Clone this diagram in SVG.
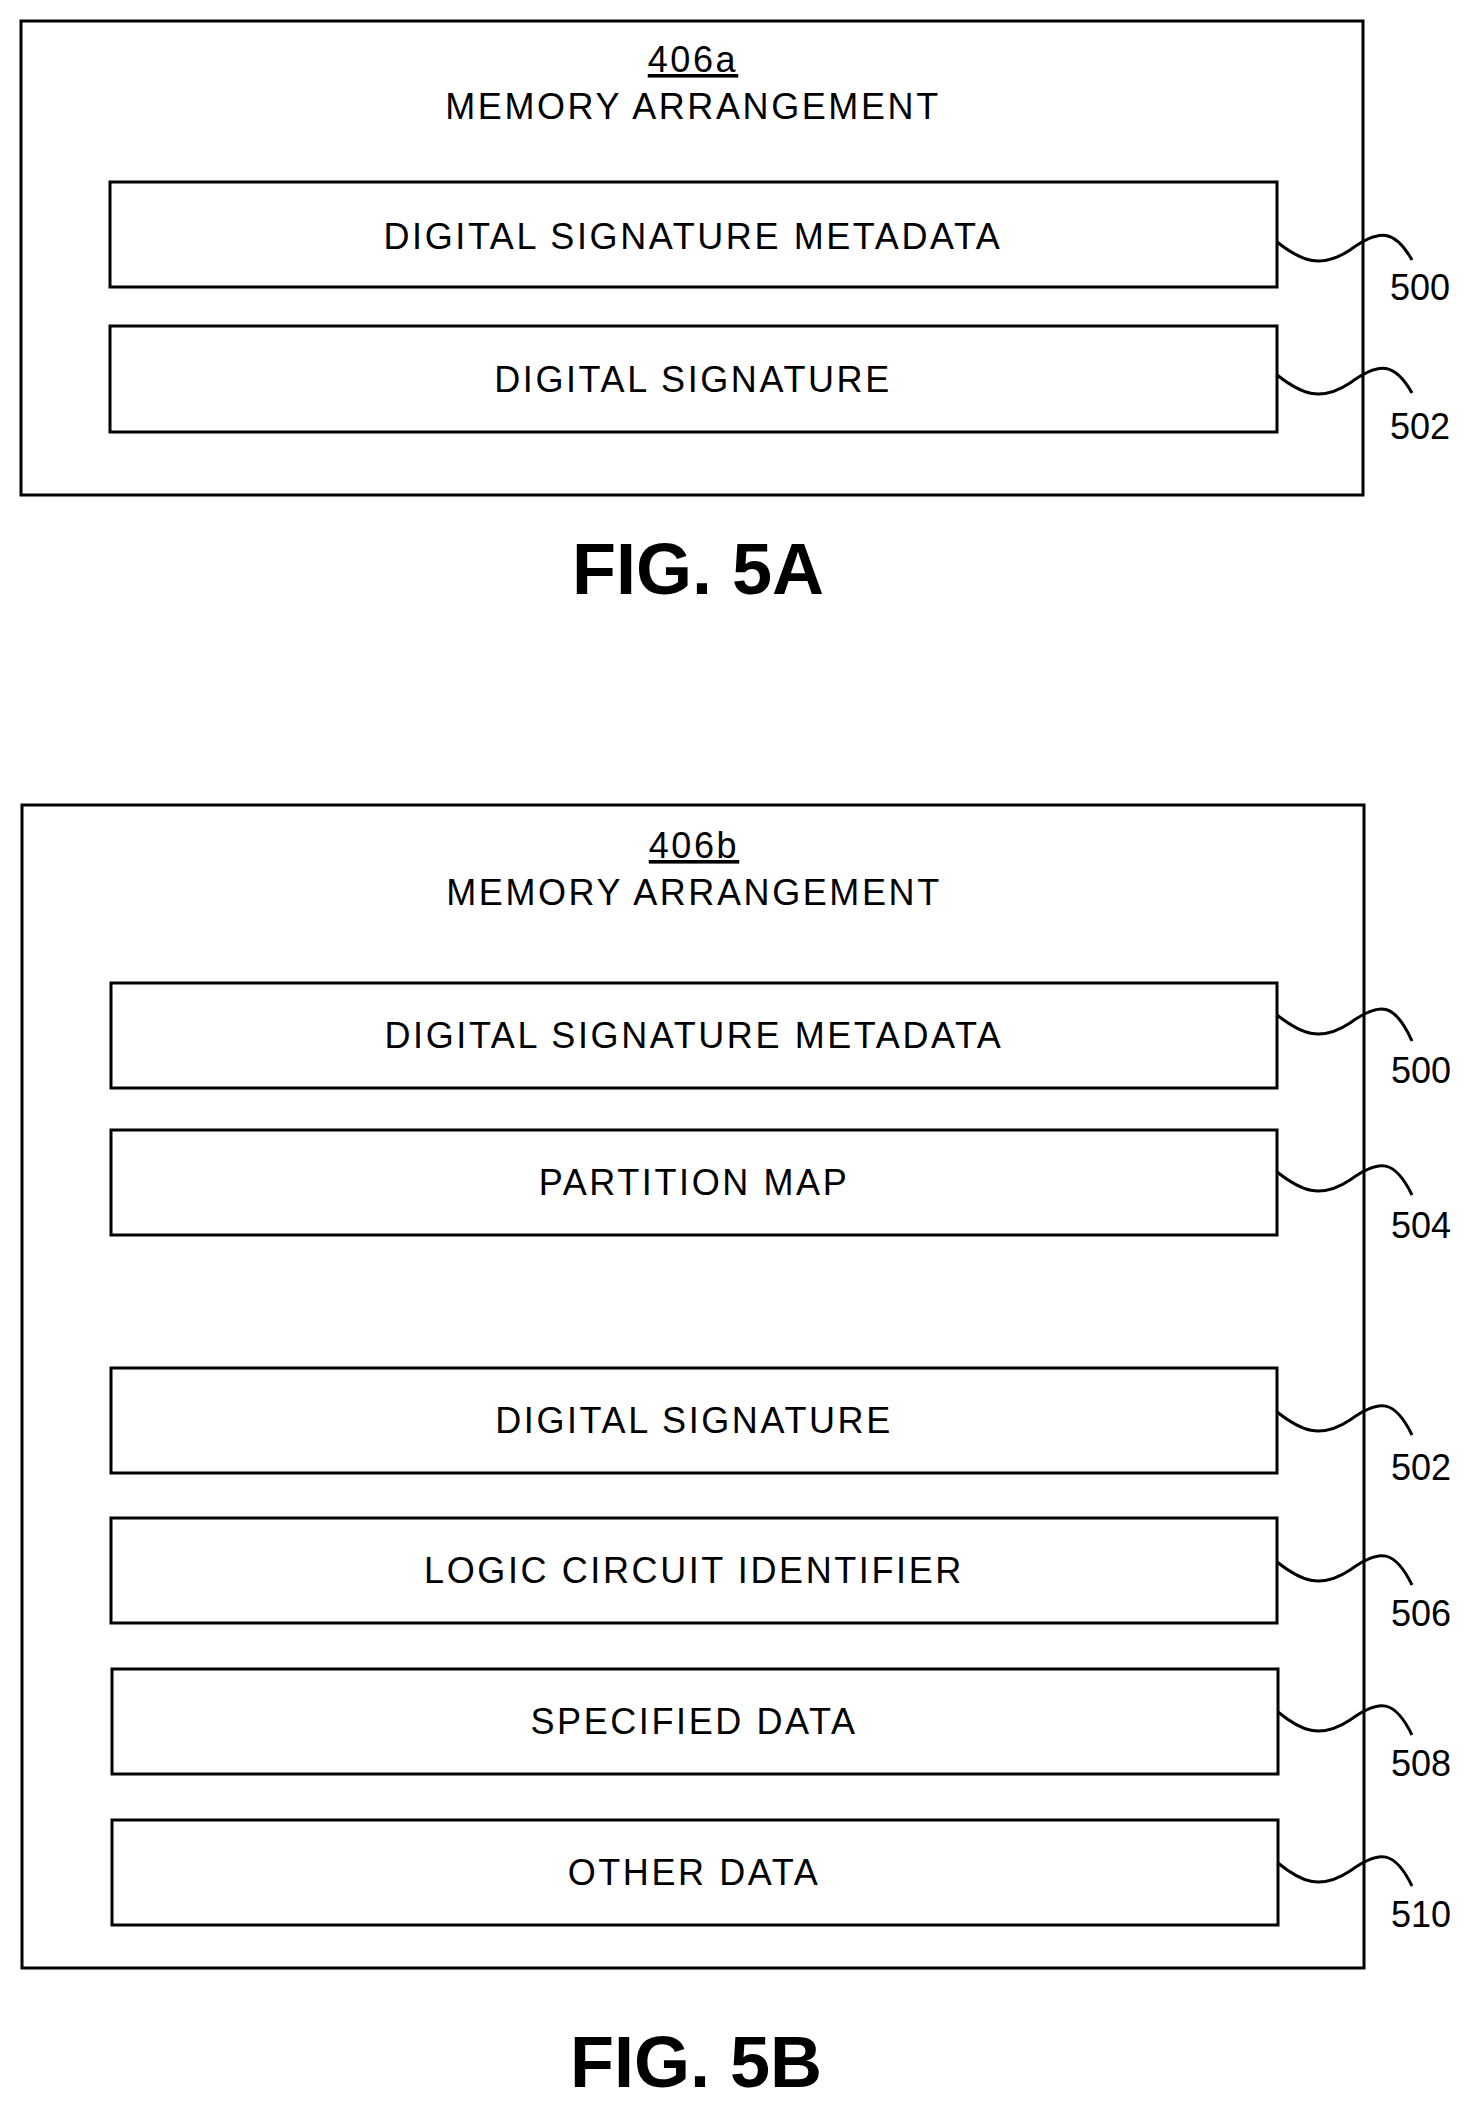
<svg xmlns="http://www.w3.org/2000/svg" width="1476" height="2113" viewBox="0 0 1476 2113">
<style>
.o{fill:none;stroke:#000;stroke-width:3}
.b{fill:#fff;stroke:#000;stroke-width:3}
.t{font-family:"Liberation Sans",Arial,sans-serif;font-size:36px;letter-spacing:2.6px;text-anchor:middle;fill:#000}
.n{font-family:"Liberation Sans",Arial,sans-serif;font-size:36px;fill:#000}
.f{font-family:"Liberation Sans",Arial,sans-serif;font-size:72px;font-weight:bold;text-anchor:middle;fill:#000}
.s{fill:none;stroke:#000;stroke-width:3}
</style>
<g id="fig5a">
<rect class="o" x="21" y="21" width="1342" height="474"/>
<text class="t" x="693" y="72" text-decoration="underline">406a</text>
<text class="t" x="693" y="119">MEMORY ARRANGEMENT</text>
<text class="f" x="698" y="594">FIG. 5A</text>
</g>
<g id="n500a"><rect class="b" x="110" y="182" width="1167" height="105"/><text class="t" x="693" y="249">DIGITAL SIGNATURE METADATA</text><text class="n" x="1390" y="300">500</text></g>
<g id="n502a"><rect class="b" x="110" y="326" width="1167" height="106"/><text class="t" x="693" y="392">DIGITAL SIGNATURE</text><text class="n" x="1390" y="439">502</text></g>
<g id="fig5b">
<rect class="o" x="22" y="805" width="1342" height="1163"/>
<text class="t" x="694" y="858" text-decoration="underline">406b</text>
<text class="t" x="694" y="905">MEMORY ARRANGEMENT</text>
<text class="f" x="696" y="2087">FIG. 5B</text>
</g>
<g id="n500b"><rect class="b" x="111" y="983" width="1166" height="105"/><text class="t" x="694" y="1048">DIGITAL SIGNATURE METADATA</text><text class="n" x="1391" y="1083">500</text></g>
<g id="n504"><rect class="b" x="111" y="1130" width="1166" height="105"/><text class="t" x="694" y="1195">PARTITION MAP</text><text class="n" x="1391" y="1238">504</text></g>
<g id="n502b"><rect class="b" x="111" y="1368" width="1166" height="105"/><text class="t" x="694" y="1433">DIGITAL SIGNATURE</text><text class="n" x="1391" y="1480">502</text></g>
<g id="n506"><rect class="b" x="111" y="1518" width="1166" height="105"/><text class="t" x="694" y="1583">LOGIC CIRCUIT IDENTIFIER</text><text class="n" x="1391" y="1626">506</text></g>
<g id="n508"><rect class="b" x="112" y="1669" width="1166" height="105"/><text class="t" x="694" y="1734">SPECIFIED DATA</text><text class="n" x="1391" y="1776">508</text></g>
<g id="n510"><rect class="b" x="112" y="1820" width="1166" height="105"/><text class="t" x="694" y="1885">OTHER DATA</text><text class="n" x="1391" y="1927">510</text></g>
<g id="connectors">
<path class="s" d="M1277 242 C1300 260,1320 270,1350 250 C1380 228,1395 230,1412 260"/>
<path class="s" d="M1277 375 C1300 393,1320 403,1350 383 C1380 361,1395 363,1412 393"/>
<path class="s" d="M1277 1015 C1300 1033,1320 1043,1350 1023 C1380 1001,1395 1003,1412 1041"/>
<path class="s" d="M1277 1172 C1300 1190,1320 1200,1350 1180 C1380 1158,1395 1160,1412 1195"/>
<path class="s" d="M1277 1412 C1300 1430,1320 1440,1350 1420 C1380 1398,1395 1400,1412 1435"/>
<path class="s" d="M1277 1562 C1300 1580,1320 1590,1350 1570 C1380 1548,1395 1550,1412 1585"/>
<path class="s" d="M1278 1712 C1300 1730,1320 1740,1350 1720 C1380 1698,1395 1700,1412 1735"/>
<path class="s" d="M1278 1863 C1300 1881,1320 1891,1350 1871 C1380 1849,1395 1851,1412 1886"/>
</g>
</svg>
